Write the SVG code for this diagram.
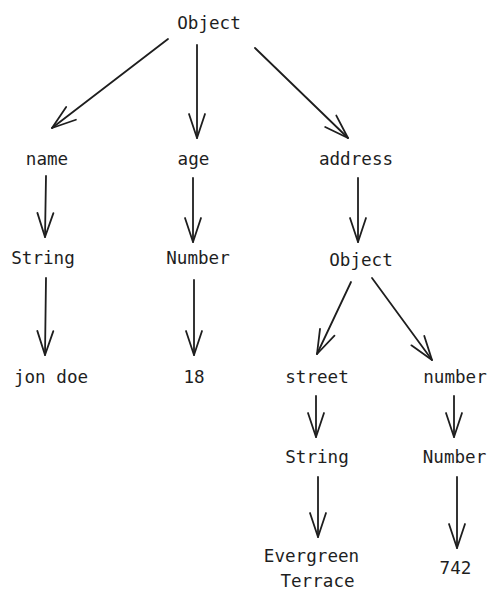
<svg xmlns="http://www.w3.org/2000/svg" width="498" height="604" viewBox="0 0 498 604">
<style>
text{font-family:"DejaVu Sans Mono","Liberation Mono",monospace;font-size:17.6px;fill:#1e1e1e;text-anchor:middle}
.e{stroke:#1e1e1e;stroke-width:1.8;fill:none;stroke-linecap:round}
</style>
<defs>
<marker id="ah" markerUnits="userSpaceOnUse" markerWidth="30" markerHeight="24" refX="0" refY="0" viewBox="-26 -12 30 24" orient="auto" overflow="visible">
<path d="M-24 -8 L0 0 L-24 8" fill="none" stroke="#1e1e1e" stroke-width="1.8" stroke-linecap="round" stroke-linejoin="round"/>
</marker>
</defs>
<rect width="498" height="604" fill="#ffffff"/>
<g id="connectors">
<line class="e" x1="168" y1="39" x2="52" y2="128" marker-end="url(#ah)"/>
<line class="e" x1="197" y1="45" x2="197" y2="138" marker-end="url(#ah)"/>
<line class="e" x1="255" y1="48" x2="348" y2="138" marker-end="url(#ah)"/>
<line class="e" x1="46" y1="176" x2="45" y2="237" marker-end="url(#ah)"/>
<line class="e" x1="193" y1="178" x2="193" y2="242" marker-end="url(#ah)"/>
<line class="e" x1="358" y1="178" x2="358" y2="242" marker-end="url(#ah)"/>
<line class="e" x1="46" y1="278" x2="45" y2="355" marker-end="url(#ah)"/>
<line class="e" x1="194" y1="280" x2="194" y2="355" marker-end="url(#ah)"/>
<line class="e" x1="351" y1="282" x2="317" y2="354" marker-end="url(#ah)"/>
<line class="e" x1="372" y1="278" x2="432" y2="360" marker-end="url(#ah)"/>
<line class="e" x1="316" y1="396" x2="316" y2="437" marker-end="url(#ah)"/>
<line class="e" x1="454" y1="396" x2="454" y2="437" marker-end="url(#ah)"/>
<line class="e" x1="318" y1="477" x2="318" y2="537" marker-end="url(#ah)"/>
<line class="e" x1="457" y1="477" x2="457" y2="548" marker-end="url(#ah)"/>
</g>
<g id="n-root"><text x="209" y="29">Object</text></g>
<g id="n-name"><text x="47" y="165">name</text></g>
<g id="n-age"><text x="193.5" y="165">age</text></g>
<g id="n-address"><text x="356" y="165">address</text></g>
<g id="n-string1"><text x="43" y="264">String</text></g>
<g id="n-number1"><text x="198" y="264">Number</text></g>
<g id="n-object2"><text x="361" y="266">Object</text></g>
<g id="n-jondoe"><text x="51" y="383">jon doe</text></g>
<g id="n-18"><text x="194" y="383">18</text></g>
<g id="n-street"><text x="317" y="383">street</text></g>
<g id="n-number"><text x="455" y="383">number</text></g>
<g id="n-string2"><text x="317" y="463">String</text></g>
<g id="n-number2"><text x="454.5" y="463">Number</text></g>
<g id="n-evergreen"><text x="311.5" y="562">Evergreen</text><text x="317.5" y="587">Terrace</text></g>
<g id="n-742"><text x="455.5" y="574">742</text></g>
</svg>
